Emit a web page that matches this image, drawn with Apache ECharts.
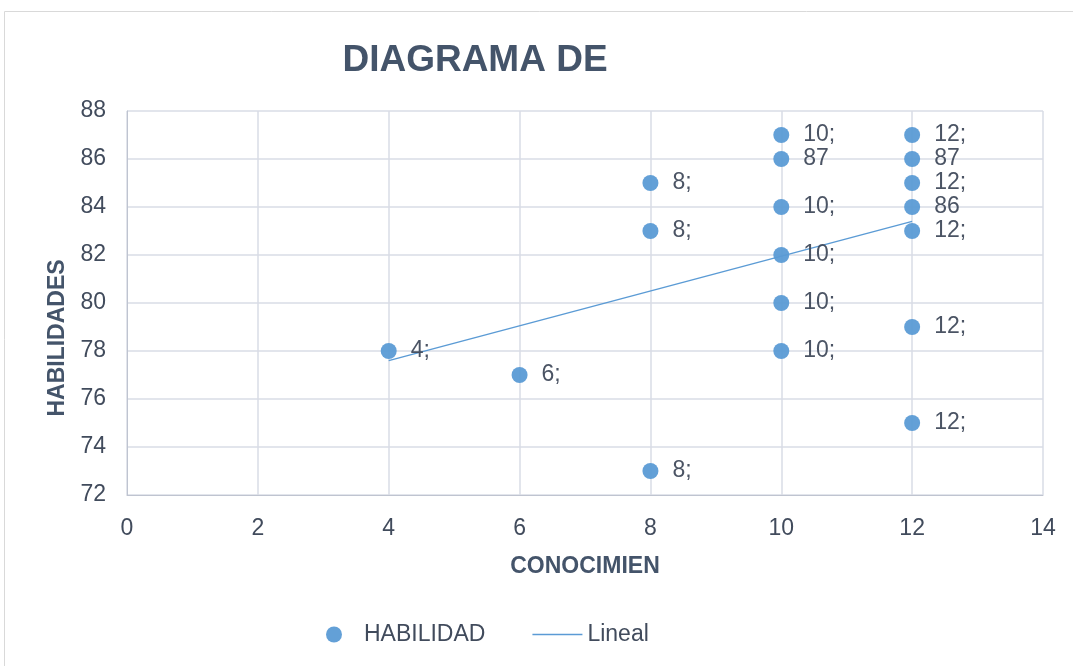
<!DOCTYPE html>
<html>
<head>
<meta charset="utf-8">
<script src="https://cdn.jsdelivr.net/npm/echarts@6/dist/echarts.min.js"></script>
<style>
  html, body { margin: 0; padding: 0; background: #fff; }
  #chart { width: 1073px; height: 666px; }
</style>
</head>
<body>
<div id="chart"></div>
<script>
// conocimiento (x) / habilidad (y) pairs
var conocimiento = [4, 6, 8, 8, 8, 10, 10, 10, 10, 10, 10, 12, 12, 12, 12, 12, 12, 12];
var habilidad    = [78, 77, 85, 83, 73, 87, 86, 84, 82, 80, 78, 87, 86, 85, 84, 83, 79, 75];
// data labels as they show (clipped Excel labels)
var etiquetas    = ['4;', '6;', '8;', '8;', '8;', '10;', '87', '10;', '10;', '10;', '10;',
                    '12;', '87', '12;', '86', '12;', '12;', '12;'];
// trend line ends
var linealX = [4, 12];
var linealY = [77.6, 83.4];

var xTicks = [0, 14, 2];
var yTicks = [72, 88, 2];

var puntos = conocimiento.map(function (x, i) {
  return { value: [x, habilidad[i]], label: { formatter: etiquetas[i] } };
});
var lineal = linealX.map(function (x, i) { return [x, linealY[i]]; });

var txt = '#414b5c';
var azul = '#5B9BD5';
var myChart = echarts.init(document.getElementById('chart'));
myChart.setOption({
  animation: false,
  textStyle: { fontFamily: 'Liberation Sans, Arial, sans-serif' },
  graphic: [{
    type: 'rect',
    shape: { x: 4.5, y: 11.5, width: 1080, height: 700 },
    style: { fill: 'none', stroke: '#d9d9d9', lineWidth: 1 },
    silent: true
  }],
  title: {
    text: 'DIAGRAMA DE',
    left: 470, top: 37, textAlign: 'center',
    textStyle: { fontSize: 37, fontWeight: 'bold', color: '#44546A' }
  },
  legend: {
    left: 321, top: 618,
    itemGap: 47, itemWidth: 50, itemHeight: 16,
    textStyle: { fontSize: 23, color: txt },
    data: [
      { name: 'HABILIDAD', icon: 'circle', itemStyle: { color: azul } },
      { name: 'Lineal', icon: 'path://M0,0 L50,0 L50,1.5 L0,1.5 Z', itemStyle: { color: azul } }
    ]
  },
  grid: { left: 127, right: 30, top: 111, bottom: 171 },
  xAxis: {
    type: 'value', min: xTicks[0], max: xTicks[1], interval: xTicks[2],
    name: 'CONOCIMIEN', nameLocation: 'middle', nameGap: 60,
    nameTextStyle: { fontSize: 23, fontWeight: 'bold', color: '#44546A' },
    axisLine: { lineStyle: { color: '#bfc4d0' } },
    axisTick: { show: false },
    axisLabel: { fontSize: 23, color: txt, margin: 22 },
    splitLine: { lineStyle: { color: '#d9dde6', width: 1.5 } }
  },
  yAxis: {
    type: 'value', min: yTicks[0], max: yTicks[1], interval: yTicks[2],
    name: 'HABILIDADES', nameLocation: 'middle', nameGap: 57,
    nameTextStyle: { fontSize: 23, fontWeight: 'bold', color: '#44546A', padding: [0, 70, 0, 0] },
    axisLine: { show: true, lineStyle: { color: '#bfc4d0' } },
    axisTick: { show: false },
    axisLabel: { fontSize: 23, color: txt, margin: 21 },
    splitLine: { lineStyle: { color: '#d9dde6', width: 1.5 } }
  },
  series: [{
    name: 'HABILIDAD',
    type: 'scatter',
    symbolSize: 16,
    itemStyle: { color: azul, opacity: 0.95 },
    label: {
      show: true, position: 'right', distance: 14,
      fontSize: 23, color: txt
    },
    labelLayout: { hideOverlap: false },
    data: puntos,
    z: 3
  }, {
    name: 'Lineal',
    type: 'line',
    symbol: 'none',
    lineStyle: { color: azul, width: 1.5 },
    itemStyle: { color: azul },
    data: lineal,
    z: 2
  }]
});
</script>
</body>
</html>
